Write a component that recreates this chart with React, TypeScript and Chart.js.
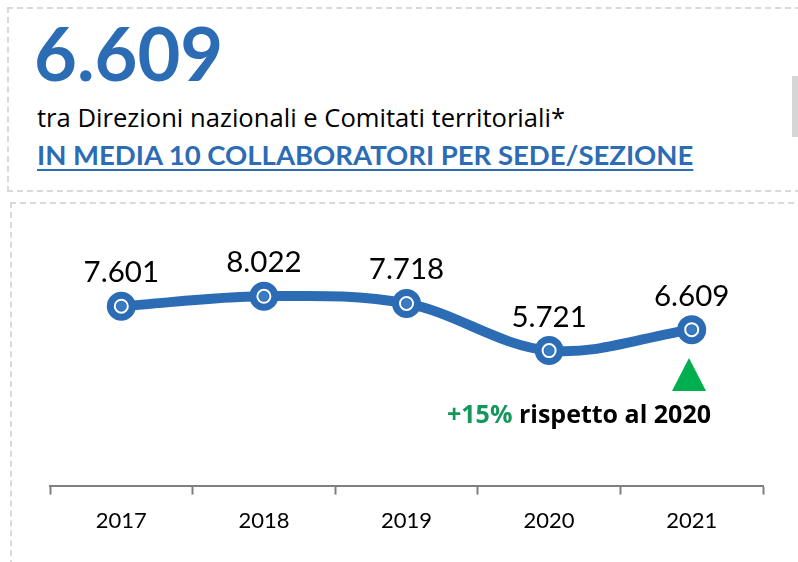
import React, { useEffect, useRef } from "react";
import { Chart, registerables } from "chart.js";

Chart.register(...registerables);

const years = ["2017", "2018", "2019", "2020", "2021"];
const collaboratori = [7601, 8022, 7718, 5721, 6609];
const totaleLabel = "6.609";
const sottotitolo = "tra Direzioni nazionali e Comitati territoriali*";
const mediaLabel = "IN MEDIA 10 COLLABORATORI PER SEDE/SEZIONE";
const variazioneLabel = "+15%";
const variazioneTesto = " rispetto al 2020";

const BLUE = "#2b6cb5";
const FONT = "Lato, 'Open Sans', sans-serif";
const FONT2 = "'Open Sans', Lato, sans-serif";

const fmt = (n: number) => String(n).replace(/\B(?=(\d{3})+(?!\d))/g, ".");

const pointDecor = {
  id: "pointDecor",
  afterDatasetsDraw(chart: any) {
    const ctx = chart.ctx;
    const meta = chart.getDatasetMeta(0);
    ctx.save();
    meta.data.forEach((pt: any, i: number) => {
      const { x, y } = pt.getProps(["x", "y"], true);
      ctx.beginPath();
      ctx.arc(x, y, 6.5, 0, Math.PI * 2);
      ctx.strokeStyle = "#ffffff";
      ctx.lineWidth = 2;
      ctx.stroke();
      ctx.beginPath();
      ctx.arc(x, y, 4.5, 0, Math.PI * 2);
      ctx.fillStyle = "#3a7cc4";
      ctx.fill();
      ctx.fillStyle = "#000000";
      ctx.font = `29.5px ${FONT}`;
      ctx.textAlign = "center";
      ctx.textBaseline = "alphabetic";
      ctx.fillText(fmt(collaboratori[i]), x, y - 24);
    });
    ctx.restore();
  },
};

export default function App() {
  const ref = useRef<HTMLCanvasElement | null>(null);

  useEffect(() => {
    if (!ref.current) return;
    const chart = new Chart(ref.current, {
      type: "line",
      data: {
        labels: years,
        datasets: [
          {
            data: collaboratori,
            borderColor: BLUE,
            backgroundColor: BLUE,
            borderWidth: 10,
            tension: 0.35,
            pointRadius: 12,
            pointBorderWidth: 5,
            pointBackgroundColor: BLUE,
            pointBorderColor: BLUE,
            borderCapStyle: "round",
            fill: false,
          },
        ],
      },
      options: {
        animation: false,
        responsive: false,
        maintainAspectRatio: false,
        layout: { padding: { left: 50, right: 35, top: 26, bottom: 15 } },
        plugins: { legend: { display: false }, tooltip: { enabled: false } },
        scales: {
          y: { display: false, min: 0, max: 11000 },
          x: {
            offset: true,
            grid: {
              offset: true,
              drawOnChartArea: false,
              drawTicks: true,
              tickLength: 9,
              tickColor: "#7f7f7f",
              tickWidth: 2,
            },
            border: { display: true, color: "#7f7f7f", width: 2 },
            ticks: {
              color: "#000000",
              padding: 13,
              font: { family: FONT, size: 22 },
              maxRotation: 0,
            },
          },
        },
      },
      plugins: [pointDecor],
    });
    return () => chart.destroy();
  }, []);

  return (
    <div
      style={{
        position: "absolute",
        left: 0,
        top: 0,
        width: 798,
        height: 562,
        overflow: "hidden",
        background: "#ffffff",
        fontFamily: FONT,
      }}
    >
      <div
        style={{
          position: "absolute",
          left: 7,
          top: 7,
          width: 840,
          height: 181,
          border: "2px dashed #d9d9d9",
        }}
      />
      <div
        style={{
          position: "absolute",
          left: 792,
          top: 76,
          width: 8,
          height: 61,
          background: "#d6d6d6",
        }}
      />
      <div
        style={{
          position: "absolute",
          left: 10,
          top: 202,
          width: 840,
          height: 400,
          border: "2px dashed #d9d9d9",
        }}
      />
      <div
        style={{
          position: "absolute",
          left: 34,
          top: 8,
          fontSize: 74,
          fontWeight: 700,
          color: BLUE,
          lineHeight: "90px",
          whiteSpace: "nowrap",
        }}
      >
        {totaleLabel}
      </div>
      <div
        style={{
          position: "absolute",
          left: 37,
          top: 102,
          fontSize: 25.6,
          fontFamily: FONT2,
          color: "#000000",
          lineHeight: "32px",
          whiteSpace: "nowrap",
        }}
      >
        {sottotitolo}
      </div>
      <div
        style={{
          position: "absolute",
          left: 37,
          top: 139,
          fontSize: 27.5,
          fontWeight: 700,
          color: BLUE,
          lineHeight: "32px",
          whiteSpace: "nowrap",
          textDecoration: "underline",
          textDecorationThickness: "2px",
          textUnderlineOffset: "4px",
        }}
      >
        {mediaLabel}
      </div>
      <canvas
        ref={ref}
        width={798}
        height={362}
        style={{ position: "absolute", left: 0, top: 200, width: 798, height: 362 }}
      />
      <div
        style={{
          position: "absolute",
          left: 672,
          top: 358,
          width: 0,
          height: 0,
          borderLeft: "17.5px solid transparent",
          borderRight: "17.5px solid transparent",
          borderBottom: "33px solid #00b050",
        }}
      />
      <div
        style={{
          position: "absolute",
          left: 447,
          top: 397,
          fontSize: 25,
          fontWeight: 700,
          fontFamily: FONT2,
          color: "#000000",
          lineHeight: "32px",
          whiteSpace: "nowrap",
        }}
      >
        <span style={{ color: "#13975a" }}>{variazioneLabel}</span>
        {variazioneTesto}
      </div>
    </div>
  );
}
